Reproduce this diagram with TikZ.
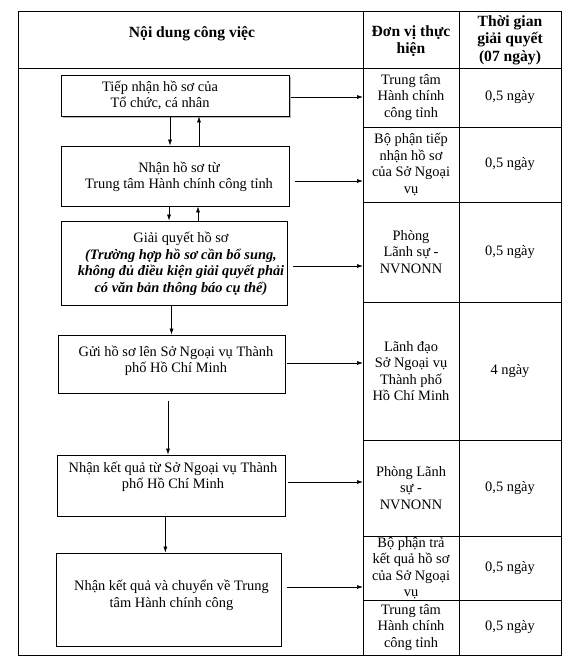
\documentclass[tikz,border=0pt]{standalone}
\usepackage{fontspec}
\setmainfont{Liberation Serif}
\usetikzlibrary{arrows.meta,shadows}

\tikzset{
  khung/.style={draw, line width=0.8pt, fill=white, inner sep=0pt},
  chu/.style={align=center, inner sep=0pt, font=\fontsize{14.4}{16.5}\selectfont},
  tieude/.style={align=center, inner sep=0pt, font=\bfseries\fontsize{15.6}{17.5}\selectfont},
  mui/.style={-{Latex[length=6pt,width=4pt]}, line width=0.6pt},
  ke/.style={line width=0.6pt}
}

\begin{document}
\begin{tikzpicture}[x=1pt,y=-1pt]
	\useasboundingbox (0,0) rectangle (576,664);
	% bang
	\draw[ke] (18,11) rectangle (561,655);
	\draw[ke] (18,68)--(561,68);
	\draw[ke] (363,11)--(363,655);
	\draw[ke] (459,11)--(459,655);
	\foreach \y in {127,202,302,440,536,600}
	\draw[ke] (363,\y)--(561,\y);
	\node[tieude] (h1) at (192,34) {Nội dung công việc};
	\node[tieude] (h2) at (411,41) {Đơn vị thực\\hiện};
	\node[tieude] (h3) at (510,40) {Thời gian\\giải quyết\\(07 ngày)};
	\foreach \ya/\yb/\dv/\tg [count=\i] in {
		68/127/{Trung tâm\\Hành chính\\công tỉnh}/{0,5 ngày},
		127/202/{Bộ phận tiếp\\nhận hồ sơ\\của Sở Ngoại\\vụ}/{0,5 ngày},
		202/302/{Phòng\\Lãnh sự -\\NVNONN}/{0,5 ngày},
		302/440/{Lãnh đạo\\Sở Ngoại vụ\\Thành phố\\Hồ Chí Minh}/{4 ngày},
		440/536/{Phòng Lãnh\\sự -\\NVNONN}/{0,5 ngày},
		536/600/{Bộ phận trả\\kết quả hồ sơ\\của Sở Ngoại\\vụ}/{0,5 ngày},
		600/655/{Trung tâm\\Hành chính\\công tỉnh}/{0,5 ngày}}
	{
		\node[chu] (dv\i) at (411,{(\ya+\yb)/2}) {\dv};
		\node[chu] (tg\i) at (510,{(\ya+\yb)/2}) {\tg};
	}
	% cac buoc
	\node[khung, minimum width=228pt, minimum height=41pt,
		drop shadow={shadow xshift=1.5pt, shadow yshift=-1.8pt, fill=black!55}] (b1) at (175,95.5) {};
	\node[khung, minimum width=228pt, minimum height=60pt] (b2) at (175,176) {};
	\node[khung, line width=0.95pt, minimum width=226pt, minimum height=84pt] (b3) at (174,263) {};
	\node[khung, minimum width=227pt, minimum height=58pt] (b4) at (172,364) {};
	\node[khung, minimum width=228pt, minimum height=61pt] (b5) at (171.4,485.5) {};
	\node[khung, minimum width=225pt, minimum height=93pt] (b6) at (168.8,599.5) {};
	\node[chu] (t1) at (160,95.5) {Tiếp nhận hồ sơ của\\Tổ chức, cá nhân};
	\node[chu] (t2) at (179,177) {Nhận hồ sơ từ\\Trung tâm Hành chính công tỉnh};
	\node[chu] (t3) at (181,264) {Giải quyết hồ sơ\\\textbf{\textit{(Trường hợp hồ sơ cần bổ sung,}}\\
		\textbf{\textit{không đủ điều kiện giải quyết phải}}\\\textbf{\textit{có văn bản thông báo cụ thể)}}};
	\node[chu] (t4) at (176,361) {Gửi hồ sơ lên Sở Ngoại vụ Thành\\phố Hồ Chí Minh};
	\node[chu] (t5) at (173,477) {Nhận kết quả từ Sở Ngoại vụ Thành\\phố Hồ Chí Minh};
	\node[chu] (t6) at (171.5,595.5) {Nhận kết quả và chuyển về Trung\\tâm Hành chính công};
	% mui ten
	\coordinate (c1) at (363,97);
	\coordinate (c2) at (363,181);
	\coordinate (c3) at (363,266);
	\coordinate (c4) at (363,363);
	\coordinate (c5) at (363,482);
	\coordinate (c6) at (363,587);
	\foreach \i/\g in {1/2,2/6,3/6,4/1,5/2,6/5}
	\draw[mui, shorten <=\g pt] (b\i.east |- c\i)--(c\i);
	\draw[mui] ([xshift=-5pt]b1.south)--([xshift=-5pt]b1.south |- b2.north);
	\draw[mui] ([xshift=24pt]b1.south |- b2.north)--([xshift=24pt]b1.south);
	\draw[mui] ([xshift=-6pt]b2.south)--([xshift=-6pt]b2.south |- b3.north);
	\draw[mui] ([xshift=23pt]b2.south |- b3.north)--([xshift=23pt]b2.south);
	\draw[mui] ([xshift=-2.5pt]b3.south)--([xshift=-2.5pt]b3.south |- b4.north);
	\draw[mui, shorten <=8pt] ([xshift=-4pt]b4.south)--([xshift=-4pt]b4.south |- b5.north);
	\draw[mui] ([xshift=-6pt]b5.south)--([xshift=-6pt]b5.south |- b6.north);
\end{tikzpicture}
\end{document}
